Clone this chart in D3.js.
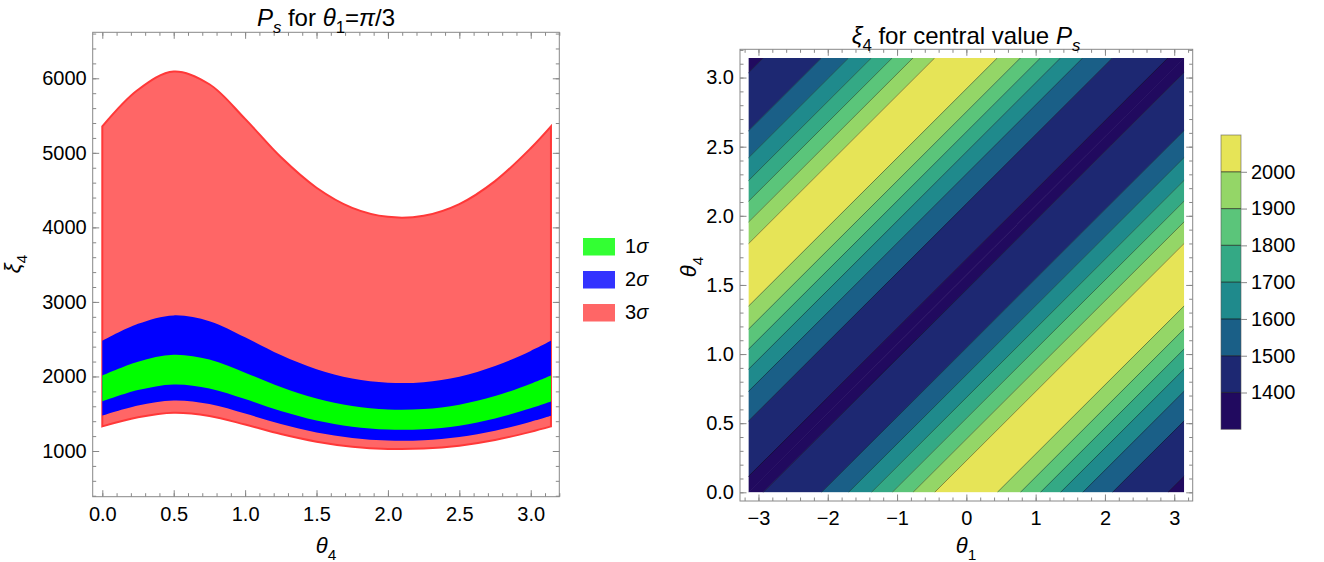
<!DOCTYPE html>
<html>
<head>
<meta charset="utf-8">
<script src="https://cdn.jsdelivr.net/npm/d3@7"></script>
<style>
    body { margin: 0; background: #fff; }
    svg text { font-family: "Liberation Sans", Arial, sans-serif; fill: #000; }
</style>
</head>
<body>
<svg id="chart" width="1324" height="562"></svg>
<script>
// ---------- left panel: xi_4 bands vs theta_4 (theta_1 = pi/3) ----------
var theta4 = [0, 0.25, 0.5, 0.75, 1.0, 1.25, 1.5, 1.75, 2.0, 2.25, 2.5, 2.75, 3.0, 3.1416];
var sig3Hi = [5355, 5846, 6092, 5920, 5455, 4943, 4532, 4262, 4141, 4156, 4313, 4621, 5062, 5355];
var sig2Hi = [2478, 2706, 2819, 2740, 2525, 2288, 2097, 1973, 1917, 1923, 1996, 2139, 2343, 2478];
var sig1Hi = [2013, 2198, 2291, 2226, 2051, 1859, 1704, 1603, 1557, 1563, 1622, 1737, 1903, 2013];
var sig1Lo = [1664, 1817, 1893, 1840, 1696, 1536, 1408, 1325, 1287, 1292, 1340, 1436, 1573, 1664];
var sig2Lo = [1474, 1610, 1677, 1630, 1502, 1361, 1248, 1174, 1140, 1144, 1187, 1272, 1394, 1474];
var sig3Lo = [1330, 1452, 1513, 1470, 1355, 1227, 1125, 1058, 1028, 1032, 1071, 1147, 1257, 1330];

var legendLabels = ["1", "2", "3"];
var legendColors = ["#33ff33", "#3333ff", "#ff6666"];

var leftXTicks = [0, 0.5, 1, 1.5, 2, 2.5, 3];
var leftYTicks = [1000, 2000, 3000, 4000, 5000, 6000];

// ---------- right panel: contour bands of xi_4 over (theta_1, theta_4) ----------
// stripes run diagonally; edges read where they cross the theta_4 = 0 border
var bandEdges = [-3.1416, -2.93, -2.09, -1.70, -1.37, -1.07, -0.77, -0.457,
                 0.447, 0.78, 1.07, 1.36, 1.68, 2.11, 2.91, 3.1416];
var bandLevel = [0, 1, 2, 3, 4, 5, 6, 7, 6, 5, 4, 3, 2, 1, 0];
var levelBounds = [1300, 1400, 1500, 1600, 1700, 1800, 1900, 2000, 2100];
var levelColors = ["#210a5f", "#1d2872", "#1a5f87", "#1f8a8c", "#34a985", "#5bc57a", "#94d667", "#e6e457"];
var levelTicks = [1400, 1500, 1600, 1700, 1800, 1900, 2000];

var rightXTicks = [-3, -2, -1, 0, 1, 2, 3];
var rightYTicks = [0, 0.5, 1, 1.5, 2, 2.5, 3];

var PI = Math.PI;
var svg = d3.select("#chart");
var frameColor = "#888";

// write text made of parts: [string, "i" italic | "sub" subscript | "isub" italic subscript | ""]
function richText(t, parts, size) {
    var shift = 0;
    parts.forEach(function (p) {
        var sp = t.append("tspan").text(p[0]);
        var isSub = p[1] == "sub" || p[1] == "isub";
        if (p[1] == "i" || p[1] == "isub") sp.style("font-style", "italic");
        if (isSub) {
            sp.attr("font-size", size * 0.7).attr("dy", (0.3 * size - shift));
            shift = 0.3 * size;
        } else if (shift != 0) {
            sp.attr("dy", -shift);
            shift = 0;
        }
    });
}

// draw frame with inward ticks on all four sides
function drawFrame(g, x, y, xt, xMinor, yt, yMinor, xFmt, yFmt) {
    var x0 = x.range()[0], x1 = x.range()[1];
    var y0 = y.range()[0], y1 = y.range()[1];
    var w = x1 - x0, h = y0 - y1;

    var specs = [
        {ax: d3.axisBottom, tr: "translate(0," + y0 + ")", sc: x, ticks: xt, minor: xMinor, fmt: xFmt, pad: 10},
        {ax: d3.axisTop, tr: "translate(0," + y1 + ")", sc: x, ticks: xt, minor: xMinor, fmt: null},
        {ax: d3.axisLeft, tr: "translate(" + x0 + ",0)", sc: y, ticks: yt, minor: yMinor, fmt: yFmt, pad: 6},
        {ax: d3.axisRight, tr: "translate(" + x1 + ",0)", sc: y, ticks: yt, minor: yMinor, fmt: null}
    ];
    specs.forEach(function (s) {
        var minor = g.append("g").attr("transform", s.tr)
            .call(s.ax(s.sc).tickValues(s.minor).tickSize(-3.5).tickFormat(""));
        minor.select(".domain").remove();
        minor.selectAll("line").attr("stroke", frameColor);

        var major = g.append("g").attr("transform", s.tr)
            .call(s.ax(s.sc).tickValues(s.ticks).tickSize(-6.5)
                .tickPadding(s.pad || 0)
                .tickFormat(s.fmt ? s.fmt : ""));
        major.select(".domain").remove();
        major.selectAll("line").attr("stroke", frameColor);
        major.selectAll("text").attr("font-size", 20).attr("font-family", null);
    });
    g.append("rect")
        .attr("x", x0).attr("y", y1).attr("width", w).attr("height", h)
        .attr("fill", "none").attr("stroke", frameColor).attr("stroke-width", 1);
}

// ================= left panel =================
var xL = d3.scaleLinear().domain([-0.0672, 3.2]).range([92.7, 559.3]);
var yL = d3.scaleLinear().domain([387, 6617]).range([496.7, 32.3]);

var gL = svg.append("g");

function band(lo, hi) {
    return d3.area()
        .x(function (d, i) { return xL(theta4[i]); })
        .y0(function (d, i) { return yL(lo[i]); })
        .y1(function (d, i) { return yL(hi[i]); })
        .curve(d3.curveCatmullRom.alpha(0.5))(theta4);
}

gL.append("path").attr("d", band(sig3Lo, sig3Hi))
    .attr("fill", "#ff6666").attr("stroke", "#ff3838").attr("stroke-width", 2);
gL.append("path").attr("d", band(sig2Lo, sig2Hi)).attr("fill", "#0000ff");
gL.append("path").attr("d", band(sig1Lo, sig1Hi)).attr("fill", "#00ff00");

drawFrame(gL, xL, yL, leftXTicks, d3.range(0, 3.21, 0.1), leftYTicks, d3.range(400, 6601, 200),
    d3.format(".1f"), d3.format("d"));

richText(gL.append("text").attr("x", 326).attr("y", 26).attr("text-anchor", "middle").attr("font-size", 24),
    [["P", "i"], ["s", "isub"], [" for ", ""], ["θ", "i"], ["1", "sub"], ["=", ""], ["π", "i"], ["/3", ""]], 24);
richText(gL.append("text").attr("x", 326).attr("y", 553).attr("text-anchor", "middle").attr("font-size", 22),
    [["θ", "i"], ["4", "sub"]], 22);
richText(gL.append("text").attr("transform", "translate(20,264) rotate(-90)").attr("text-anchor", "middle").attr("font-size", 22),
    [["ξ", "i"], ["4", "sub"]], 22);

// legend
legendLabels.forEach(function (lab, i) {
    var ly = 238 + i * 33;
    gL.append("rect").attr("x", 583).attr("y", ly).attr("width", 32).attr("height", 17.5)
        .attr("fill", legendColors[i]);
    richText(gL.append("text").attr("x", 625).attr("y", ly + 15).attr("font-size", 20),
        [[lab, ""], ["σ", "i"]], 20);
});

// ================= right panel =================
var xR = d3.scaleLinear().domain([-3.2665, 3.2665]).range([740, 1192.7]);
var yR = d3.scaleLinear().domain([-0.0628, 3.2044]).range([501, 49.3]);

var gR = svg.append("g");
gR.append("clipPath").attr("id", "clipR").append("rect")
    .attr("x", xR(-PI)).attr("y", yR(PI))
    .attr("width", xR(PI) - xR(-PI)).attr("height", yR(0) - yR(PI));

var field = gR.append("g").attr("clip-path", "url(#clipR)");

// each stripe, plus its copy one period to the left
bandLevel.forEach(function (lev, i) {
    var a = bandEdges[i], b = bandEdges[i + 1];
    [0, -2 * PI].forEach(function (k) {
        var pts = [[a + k, 0], [b + k, 0], [b + k + 2 * PI, PI], [a + k + 2 * PI, PI]];
        field.append("path")
            .attr("d", d3.line().x(function (d) { return xR(d[0]); }).y(function (d) { return yR(d[1]); })(pts) + "Z")
            .attr("fill", levelColors[lev]).attr("stroke", levelColors[lev]).attr("stroke-width", 0.6);
    });
});
// contour lines
bandEdges.slice(1, -1).forEach(function (c) {
    [0, -2 * PI].forEach(function (k) {
        field.append("line")
            .attr("x1", xR(c + k)).attr("y1", yR(0))
            .attr("x2", xR(c + k + 2 * PI)).attr("y2", yR(PI))
            .attr("stroke", "#000").attr("stroke-opacity", 0.5).attr("stroke-width", 0.8);
    });
});

drawFrame(gR, xR, yR, rightXTicks, d3.range(-3.2, 3.21, 0.2), rightYTicks, d3.range(0, 3.21, 0.1),
    d3.format("d"), d3.format(".1f"));

richText(gR.append("text").attr("x", 966).attr("y", 44).attr("text-anchor", "middle").attr("font-size", 24),
    [["ξ", "i"], ["4", "sub"], [" for central value ", ""], ["P", "i"], ["s", "isub"]], 24);
richText(gR.append("text").attr("x", 966).attr("y", 553).attr("text-anchor", "middle").attr("font-size", 22),
    [["θ", "i"], ["1", "sub"]], 22);
richText(gR.append("text").attr("transform", "translate(696,267) rotate(-90)").attr("text-anchor", "middle").attr("font-size", 22),
    [["θ", "i"], ["4", "sub"]], 22);

// colour bar
var yC = d3.scaleLinear().domain([1300, 2100]).range([429.3, 135]);
var gC = svg.append("g");
levelColors.forEach(function (col, i) {
    gC.append("rect").attr("x", 1221).attr("width", 20)
        .attr("y", yC(levelBounds[i + 1])).attr("height", yC(levelBounds[i]) - yC(levelBounds[i + 1]))
        .attr("fill", col);
});
levelTicks.forEach(function (v) {
    gC.append("line").attr("x1", 1221).attr("x2", 1241).attr("y1", yC(v)).attr("y2", yC(v))
        .attr("stroke", "#000").attr("stroke-opacity", 0.55).attr("stroke-width", 1.2);
});
gC.append("rect").attr("x", 1221).attr("y", yC(2100)).attr("width", 20).attr("height", yC(1300) - yC(2100))
    .attr("fill", "none").attr("stroke", "#555").attr("stroke-opacity", 0.7).attr("stroke-width", 0.8);
var cAxis = gC.append("g").attr("transform", "translate(1241,0)")
    .call(d3.axisRight(yC).tickValues(levelTicks).tickSize(6).tickPadding(4).tickFormat(d3.format("d")));
cAxis.select(".domain").remove();
cAxis.selectAll("line").attr("stroke", frameColor);
cAxis.selectAll("text").attr("font-size", 20).attr("font-family", null);
</script>
</body>
</html>
